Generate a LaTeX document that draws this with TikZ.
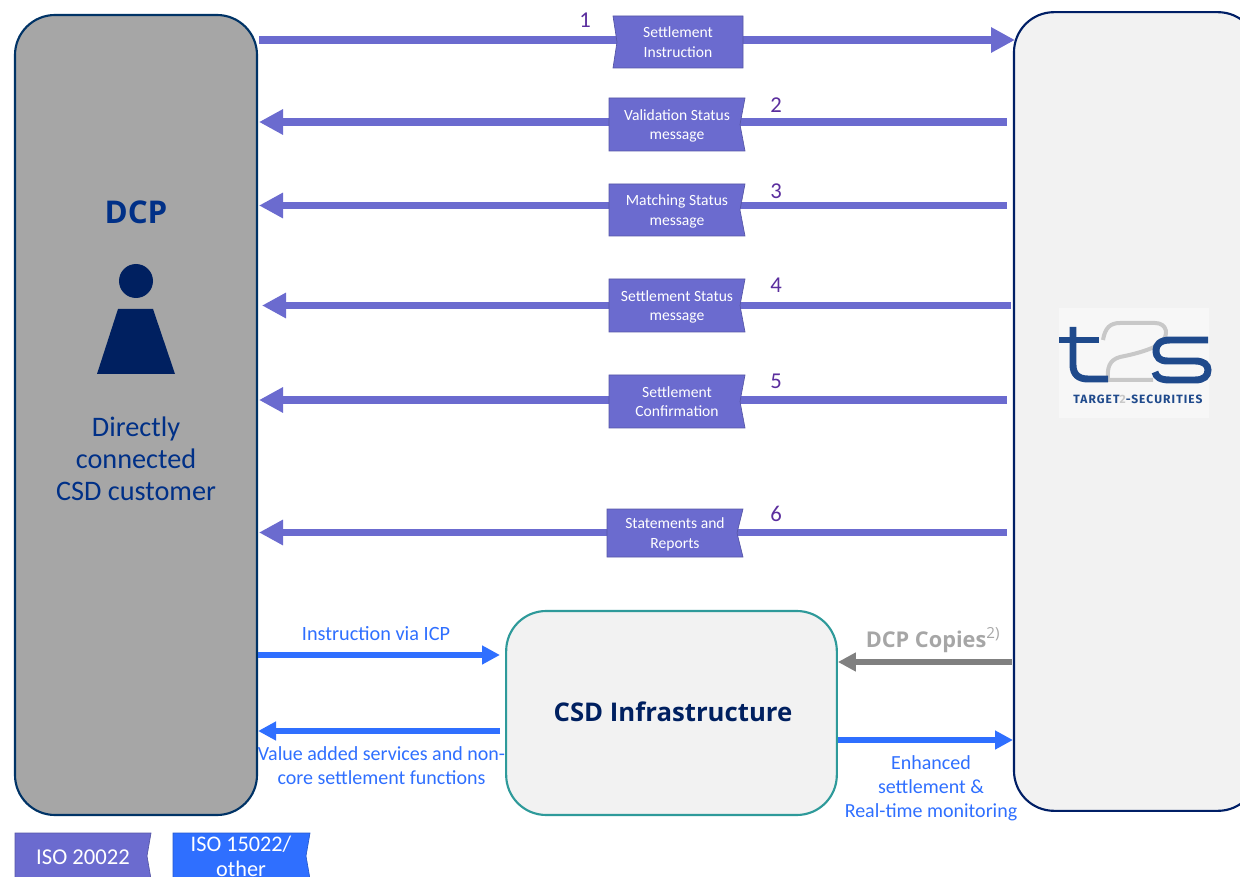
\documentclass[tikz,border=0pt]{standalone}
\usepackage{fontspec}
\setmainfont{Carlito}
\newfontfamily\widefont{Open Sans}
\newfontfamily\logofont{Fira Sans}
\usetikzlibrary{arrows.meta,backgrounds}
\definecolor{iso}{HTML}{6B6BCF}
\definecolor{blu}{HTML}{2F6FFF}
\definecolor{num}{HTML}{5B2E9E}
\definecolor{navy}{HTML}{002060}
\definecolor{dcptxt}{HTML}{003087}
\definecolor{dcpedge}{HTML}{003366}
\definecolor{paneedge}{HTML}{001F66}
\definecolor{pane}{HTML}{F2F2F2}
\definecolor{teal1}{HTML}{2E9A9A}
\definecolor{logoblue}{HTML}{1F4A8C}
\definecolor{logogray}{HTML}{C8C8C8}
\tikzset{
  px/.style={x=0.75pt,y=-0.75pt},
  ribbonfill/.style={fill=#1,draw=#1!80!black,line width=0.5pt},
  ribbontext/.style={inner sep=0pt,text=white,align=center,text depth=0pt,font=\fontsize{11.7pt}{14.6pt}\selectfont},
  flow/.style={draw=iso,line width=5.8pt,-{Triangle[length=18pt,width=18pt]}},
  blueflow/.style={draw=blu,line width=4.4pt,-{Triangle[length=13.5pt,width=13.5pt]}},
  grayflow/.style={draw=gray,line width=4.4pt,-{Triangle[length=13.5pt,width=13.5pt]}},
  numlabel/.style={text=num,inner sep=0pt,font=\fontsize{17pt}{17pt}\selectfont},
  bluelabel/.style={text=blu,inner sep=0pt,align=center,font=\fontsize{15.2pt}{18pt}\selectfont},
  bigpane/.style={rounded corners=30pt,line width=1.6pt,inner sep=0pt},
}
% name, left, right, top, bottom, notch x, text, colour
\newcommand{\ribbonL}[8]{%
  \filldraw[ribbonfill=#8] (#2,#4) -- (#3,#4) -- (#3,#5) -- (#2,#5) -- (#6,{(#4+#5)/2}) -- cycle;
  \node[ribbontext,minimum width={(#3-#2)*0.75pt},minimum height={(#5-#4)*0.75pt}] (#1) at ({(#2+#3)/2},{(#4+#5)/2}) {#7};}
\newcommand{\ribbonR}[8]{%
  \filldraw[ribbonfill=#8] (#2,#4) -- (#3,#4) -- (#6,{(#4+#5)/2}) -- (#3,#5) -- (#2,#5) -- cycle;
  \node[ribbontext,minimum width={(#3-#2)*0.75pt},minimum height={(#5-#4)*0.75pt}] (#1) at ({(#2+#3)/2},{(#4+#5)/2}) {#7};}
\begin{document}
\begin{tikzpicture}[px]
\useasboundingbox (0,0) rectangle (1240,877);
\clip (0,0) rectangle (1240,877);
% panes
\node[bigpane,draw=dcpedge,fill=black!35,minimum width=181.5pt,minimum height=600pt] (dcp) at (136,415) {};
\node[bigpane,draw=paneedge,fill=pane,minimum width=183pt,minimum height=599pt] (t2s) at (1136,411.5) {};
\node[bigpane,draw=teal1,fill=pane,minimum width=248pt,minimum height=153pt] (csd) at (671.5,713) {};
% DCP content
\node[inner sep=0pt,text=dcptxt,font=\widefont\bfseries\fontsize{23.5pt}{23.5pt}\selectfont] (dcptitle) at (136,212) {DCP};
\fill[navy] (136,281) circle[radius=17];
\fill[navy] (118,309) -- (153,309) -- (175,374) -- (97,374) -- cycle;
\node[inner sep=0pt,text=dcptxt,align=center,font=\fontsize{21.2pt}{24pt}\selectfont] (dcpsub) at (136,459) {Directly\\connected\\CSD customer};
\node[inner sep=0pt,text=navy,font=\widefont\bfseries\fontsize{19.3pt}{19.3pt}\selectfont] (csdtitle) at (673,712) {CSD Infrastructure};
% logo
\fill[white!97!black] (1059,308) rectangle (1209,418);
\draw[logogray,line width=3pt,line join=round] (1103,340) .. controls (1105,328) and (1110,323) .. (1120,323) -- (1155,323) .. controls (1167,323) and (1170,335) .. (1160,344) .. controls (1150,350) and (1135,354) .. (1120,357) .. controls (1109,360) and (1107,368) .. (1108,380) -- (1153,380);
\draw[logoblue,line width=4.6pt] (1059,340) -- (1099,340);
\draw[logoblue,line width=5.2pt] (1073,327) -- (1073,365) .. controls (1073,374) and (1078,379) .. (1088,379) -- (1108,379);
\draw[logoblue,line width=5.2pt] (1208,340) -- (1170,340) .. controls (1160,340) and (1156,345) .. (1156,350) .. controls (1156,358) and (1160,361) .. (1168,361) -- (1195,361) .. controls (1204,361) and (1208,365) .. (1208,370) .. controls (1208,376) and (1204,380) .. (1195,380) -- (1170,380) .. controls (1160,380) and (1156,377) .. (1155,372);
\node[inner sep=0pt,text=logoblue,font=\logofont\bfseries\fontsize{9pt}{9pt}\selectfont] (logotext) at (1138,399) {\addfontfeatures{LetterSpace=9}TARGET\textcolor{logogray}{2}-SECURITIES};
% ribbons
\ribbonL{m1}{613}{743}{16}{68}{617}{Settlement\\Instruction}{iso}
\ribbonR{m2}{609}{745}{98}{151}{740}{Validation Status\\message}{iso}
\ribbonR{m3}{609}{745}{184}{236}{740}{Matching Status\\message}{iso}
\ribbonR{m4}{609}{745}{279}{332}{740}{Settlement Status\\message}{iso}
\ribbonR{m5}{609}{745}{375}{428}{740}{Settlement\\Confirmation}{iso}
\ribbonR{m6}{607}{743}{509}{557}{737}{Statements and\\Reports}{iso}
% connector ends
\coordinate (a1) at (259,40);   \coordinate (b1) at (1015,40);
\coordinate (a2) at (1007,122); \coordinate (b2) at (259,122);
\coordinate (a3) at (1007,205.5); \coordinate (b3) at (259,205.5);
\coordinate (a4) at (1011,305.5); \coordinate (b4) at (262,305.5);
\coordinate (a5) at (1007,400); \coordinate (b5) at (259,400);
\coordinate (a6) at (1007,532.5); \coordinate (b6) at (259,532.5);
\begin{pgfonlayer}{background}
\draw[flow] (a1) -- (m1 |- a1) -- (b1);
\draw[flow] (a2) -- (m2 |- a2) -- (b2);
\draw[flow] (a3) -- (m3 |- a3) -- (b3);
\draw[flow] (a4) -- (m4 |- a4) -- (b4);
\draw[flow] (a5) -- (m5 |- a5) -- (b5);
\draw[flow] (a6) -- (m6 |- a6) -- (b6);
\end{pgfonlayer}
% numbers
\node[numlabel] (n1) at (585,20) {1};
\node[numlabel] (n2) at (776,105) {2};
\node[numlabel] (n3) at (776,191) {3};
\node[numlabel] (n4) at (776,285) {4};
\node[numlabel] (n5) at (776,381) {5};
\node[numlabel] (n6) at (776,514) {6};
% CSD connectors
\coordinate (c1) at (500,655);
\coordinate (c2) at (500,731);
\coordinate (c3) at (1012,662);
\coordinate (c4) at (1013,740);
\draw[blueflow] (dcp.east |- c1) -- (c1);
\draw[blueflow] (c2) -- (dcp.east |- c2);
\draw[grayflow] (c3) -- (csd.east |- c3);
\draw[blueflow] (csd.east |- c4) -- (c4);
\node[bluelabel] (l1) at (376,634) {Instruction via ICP};
\node[bluelabel,font=\fontsize{15pt}{18pt}\selectfont] (l2) at (381.5,766) {Value added services and non-\\core settlement functions};
\node[bluelabel,font=\fontsize{15pt}{18pt}\selectfont] (l3) at (931,788) {Enhanced\\settlement \&\\Real-time monitoring};
\node[inner sep=0pt,text=black!35,font=\widefont\bfseries\fontsize{16.3pt}{16.3pt}\selectfont] (l4) at (933,640) {DCP Copies\textsuperscript{\fontseries{m}\selectfont 2)}};
% legend
\ribbonR{k1}{15}{151}{833}{879}{147}{}{iso}
\ribbonR{k2}{173}{310}{833}{879}{306}{}{blu}
\node[inner sep=0pt,text=white,font=\fontsize{17pt}{17pt}\selectfont] (k1t) at (83,857) {ISO 20022};
\node[inner sep=0pt,text=white,align=center,font=\fontsize{16.7pt}{18.8pt}\selectfont] (k2t) at (241,856.5) {ISO 15022/\\other};
\end{tikzpicture}
\end{document}
